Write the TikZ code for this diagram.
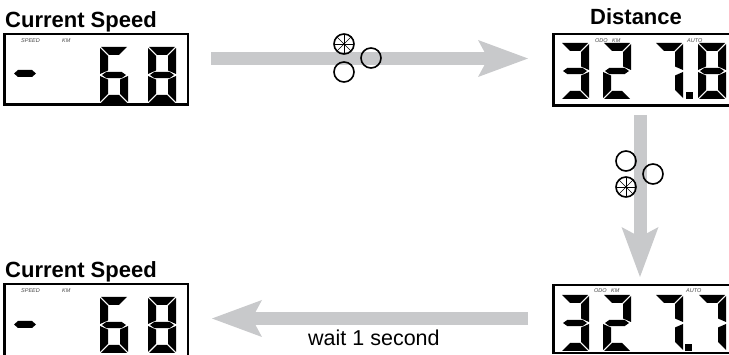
\documentclass[tikz,border=0pt]{standalone}
\usepackage{fontspec}
\setmainfont{Liberation Sans}
\usetikzlibrary{arrows.meta}
\definecolor{arrowgray}{RGB}{200,201,203}
\definecolor{labgray}{RGB}{70,70,70}
% seven-segment geometry (local pixels, y downwards)
\def\sega{(1,0) -- (27,0) -- (19,8) -- (9,8) -- cycle}
\def\segb{(28,1) -- (28,27) -- (20,23.5) -- (20,9) -- cycle}
\def\segc{(28,29) -- (28,55) -- (20,47) -- (20,32.5) -- cycle}
\def\segd{(1,56) -- (27,56) -- (19,48) -- (9,48) -- cycle}
\def\sege{(0,29) -- (8,32.5) -- (8,47) -- (0,55) -- cycle}
\def\segf{(0,1) -- (8,9) -- (8,23.5) -- (0,27) -- cycle}
\def\segg{(2,28) -- (6.5,24.8) -- (21.5,24.8) -- (26,28) -- (21.5,31.2) -- (6.5,31.2) -- cycle}
\newcommand\lcddigit[3]{%
  \begin{scope}[shift={(#1,#2)}]
    \foreach \s in {#3}{\expandafter\fill\csname seg\s\endcsname;}
  \end{scope}}
\begin{document}
\begin{tikzpicture}[x=1pt,y=-1pt,
  display/.style={draw=black, line width=2.5pt, inner sep=0pt},
  title/.style={font=\bfseries\fontsize{22}{22}\selectfont, inner sep=0pt, anchor=base west},
  plain/.style={font=\fontsize{21.5}{21.5}\selectfont, inner sep=0pt, anchor=base west},
  tiny/.style={font=\itshape\fontsize{5.5}{5.5}\selectfont, text=labgray, inner sep=0pt, anchor=base west},
  btn/.style={circle, draw=black, line width=1.6pt, minimum size=20pt, inner sep=0pt},
  btnstar/.style={btn, path picture={
     \foreach \a in {0,45,90,135}{\draw[line width=0.5pt] (path picture bounding box.center) ++(\a:10) -- ++(\a+180:20);}
     \fill (path picture bounding box.center) circle (1.2);}},
  bigarrow/.style={draw=arrowgray, line width=13pt,
     -{Stealth[length=50pt, width=37pt, inset=10pt, line width=0pt, color=arrowgray]}}
]
\useasboundingbox (0,0) rectangle (729,355);
\clip (0,0) rectangle (729,355);

% titles
\node[title] (t1) at (5,28) {Current Speed};
\node[title] (t2) at (590,25) {Distance};
\node[title] (t3) at (5,278) {Current Speed};

% displays
\node[display, minimum width=183.5pt, minimum height=70.5pt] (d1) at (96,69.5) {};
\node[display, minimum width=190.5pt, minimum height=71.5pt] (d2) at (648.5,70) {};
\node[display, minimum width=183.5pt, minimum height=83.75pt] (d3) at (96,326) {};
\node[display, minimum width=190.5pt, minimum height=68pt] (d4) at (648.5,319.25) {};

% tiny labels
\node[tiny] (l1) at (21,42.5) {SPEED};
\node[tiny] (l2) at (62,42.5) {KM};
\node[tiny] (l3) at (595,42.5) {ODO};
\node[tiny] (l4) at (612,42.5) {KM};
\node[tiny] (l5) at (687,42.5) {AUTO};
\node[tiny] (l6) at (21,292.5) {SPEED};
\node[tiny] (l7) at (62,292.5) {KM};
\node[tiny] (l8) at (594,292.5) {ODO};
\node[tiny] (l9) at (611,292.5) {KM};
\node[tiny] (l10) at (686,292.5) {AUTO};

% display 1: - 68
\fill (14,73.5) -- (18,70) -- (32,70) -- (36,73.5) -- (32,77) -- (18,77) -- cycle;
\lcddigit{100}{47}{a,f,g,e,d,c}
\lcddigit{148}{47}{a,b,c,d,e,f,g}
% display 2: 327.8
\lcddigit{561}{43}{a,b,g,c,d}
\lcddigit{603}{43}{a,b,g,e,d}
\lcddigit{655}{43}{a,b,c}
\fill (686,92) rectangle (693,99);
\lcddigit{698}{43}{a,b,c,d,e,f,g}
% display 3: - 68
\fill (14,324.5) -- (18,321) -- (32,321) -- (36,324.5) -- (32,328) -- (18,328) -- cycle;
\lcddigit{100}{297}{a,f,g,e,d,c}
\lcddigit{148}{297}{a,b,c,d,e,f,g}
% display 4: 327.7
\lcddigit{561}{295}{a,b,g,c,d}
\lcddigit{603}{295}{a,b,g,e,d}
\lcddigit{655}{295}{a,b,c}
\fill (685,344) rectangle (692,351);
\lcddigit{698}{295}{a,b,c}

% arrows
\coordinate (a1s) at (211,58.5);
\coordinate (a1e) at (528,58.5);
\coordinate (a2s) at (640,115);
\coordinate (a2e) at (640,277);
\coordinate (a3s) at (528,318.5);
\coordinate (a3e) at (212,318.5);
\draw[bigarrow] (a1s) -- (a1e);
\draw[bigarrow] (a2s) -- (a2e);
\draw[bigarrow] (a3s) -- (a3e);

% buttons
\node[btnstar] (b1) at (344,44) {};
\node[btn] (b2) at (344,72) {};
\node[btn] (b3) at (371,58) {};
\node[btn] (b4) at (626,161) {};
\node[btn] (b5) at (653,174) {};
\node[btnstar] (b6) at (626,187) {};

\node[plain] (w) at (308,346) {wait 1 second};
\end{tikzpicture}
\end{document}
